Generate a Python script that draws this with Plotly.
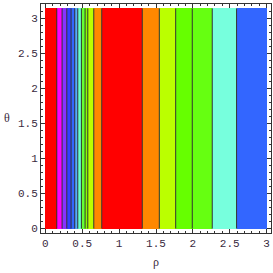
import plotly.graph_objects as go

# band edges in rho (contour boundaries)
rho_edges = [0.0, 0.154, 0.226, 0.29, 0.348, 0.398, 0.439, 0.488, 0.538, 0.575,
             0.656, 0.764, 1.314, 1.545, 1.767, 1.992, 2.263, 2.593, 3.0]
band_colors = ["#FF0000", "#FF00FF", "#8833FF", "#3340FF", "#3366FF", "#55AAFF",
               "#66FFCC", "#66FF33", "#88FF00", "#BBFF00", "#FF8800", "#FF0000",
               "#FF8800", "#BBFF00", "#66FF00", "#66FF11", "#77FFDD", "#3366FF"]
theta_max = 3.14159
x_ticks = [0, 0.5, 1, 1.5, 2, 2.5, 3]
x_tick_labels = ["0", "0.5", "1", "1.5", "2", "2.5", "3"]
y_ticks = [0, 0.5, 1, 1.5, 2, 2.5, 3]
y_tick_labels = ["0", "0.5", "1", "1.5", "2", "2.5", "3"]

mids = [(a + b) / 2 for a, b in zip(rho_edges[:-1], rho_edges[1:])]
widths = [b - a for a, b in zip(rho_edges[:-1], rho_edges[1:])]

fig = go.Figure()
fig.add_trace(go.Bar(x=mids, y=[theta_max] * len(mids), width=widths,
                     marker=dict(color=band_colors, line=dict(width=0)),
                     hoverinfo="skip", showlegend=False))

lx, ly = [], []
for e in rho_edges[1:-1]:
    lx += [e, e, None]
    ly += [0, theta_max, None]
fig.add_trace(go.Scatter(x=lx, y=ly, mode="lines",
                         line=dict(color="#333333", width=1),
                         hoverinfo="skip", showlegend=False))

tickfont = dict(family="Liberation Mono, Courier New, monospace", size=11, color="#3a2a40")
axis_common = dict(showline=True, linecolor="#333333", linewidth=1, mirror="allticks",
                   ticks="inside", ticklen=4, tickcolor="#333333", tickwidth=1,
                   showgrid=False, zeroline=False, tickfont=tickfont, automargin=False,
                   minor=dict(ticks="inside", ticklen=2, tickcolor="#333333", dtick=0.1))

fig.update_layout(
    width=273, height=273,
    margin=dict(l=41, r=2, t=4, b=40),
    paper_bgcolor="white", plot_bgcolor="white",
    bargap=0,
    xaxis=dict(range=[-0.06, 3.06], tickvals=x_ticks, ticktext=x_tick_labels, **axis_common),
    yaxis=dict(range=[-0.063, 3.204], tickvals=y_ticks, ticktext=y_tick_labels, **axis_common),
    annotations=[
        dict(text="ρ", x=0.5, xref="paper", y=-0.088, yref="paper", showarrow=False,
             font=dict(family="Liberation Serif, serif", size=12, color="#3a2a40"),
             yanchor="top"),
        dict(text="θ", x=-0.15, xref="paper", y=1.58, yref="y", showarrow=False,
             font=dict(family="Liberation Serif, serif", size=12, color="#3a2a40"),
             xanchor="center"),
    ],
)

fig.write_html("out.html", config={"displayModeBar": False},
               post_script="document.body.style.margin='0';document.body.style.overflow='hidden';")
